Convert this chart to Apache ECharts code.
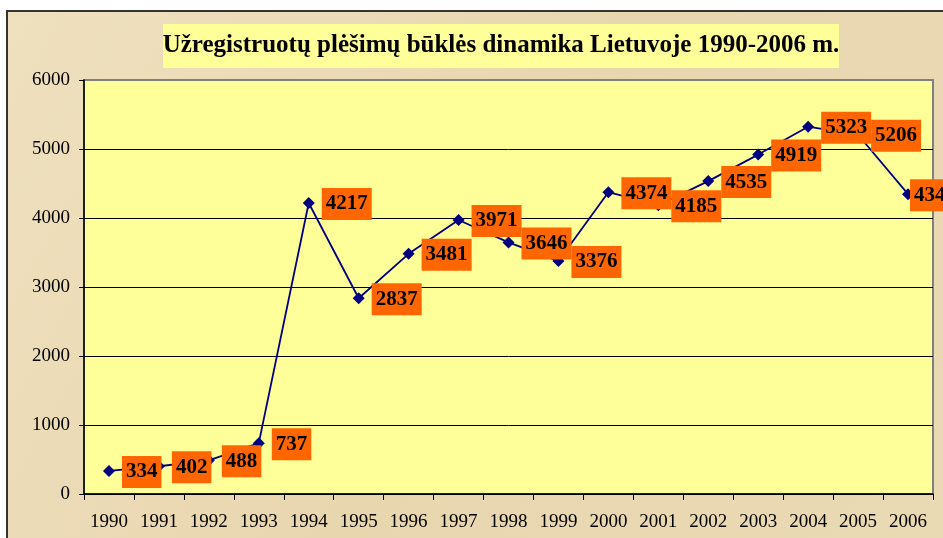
<!DOCTYPE html>
<html>
<head>
<meta charset="utf-8">
<script src="https://cdn.jsdelivr.net/npm/echarts@6/dist/echarts.min.js"></script>
<style>
    html, body { margin: 0; padding: 0; background: #ffffff; }
    #chart { width: 943px; height: 538px; }
</style>
</head>
<body>
<div id="chart"></div>
<script>
// metai ir užregistruoti plėšimai
var years = ['1990', '1991', '1992', '1993', '1994', '1995', '1996', '1997', '1998',
    '1999', '2000', '2001', '2002', '2003', '2004', '2005', '2006'];
var robberies = [334, 402, 488, 737, 4217, 2837, 3481, 3971, 3646,
    3376, 4374, 4185, 4535, 4919, 5323, 5206, 4345];
var yTicks = [0, 1000, 2000, 3000, 4000, 5000, 6000];

var titleText = 'Užregistruotų plėšimų būklės dinamika Lietuvoje 1990-2006 m.';
var serif = '"Liberation Serif", "Times New Roman", serif';

// paskutinė etiketė prispausta prie taško (kaip Excel'yje)
var seriesData = robberies.map(function (v, i) {
    if (i === robberies.length - 1) {
        return { value: v, label: { distance: -4 } };
    }
    return v;
});

var chart = echarts.init(document.getElementById('chart'));

var option = {
    backgroundColor: '#ffffff',
    animation: false,
    graphic: [
        {
            type: 'rect', z: -10, silent: true,
            shape: { x: 7, y: 11, width: 945, height: 540 },
            style: {
                fill: {
                    type: 'linear', x: 0, y: 0, x2: 1, y2: 1,
                    colorStops: [
                        { offset: 0, color: '#EFE0BE' },
                        { offset: 0.5, color: '#E8D6AF' },
                        { offset: 1, color: '#EADAB4' }
                    ]
                },
                stroke: '#333333', lineWidth: 2
            }
        },
        {
            type: 'rect', silent: true,
            shape: { x: 163, y: 24, width: 676, height: 44 },
            style: { fill: '#FFFF99' }
        },
        {
            type: 'text', silent: true,
            x: 501, y: 46,
            style: {
                text: titleText,
                fill: '#000000',
                font: 'bold 25px ' + serif,
                align: 'center',
                verticalAlign: 'middle'
            }
        }
    ],
    grid: {
        left: 84,
        right: 10,
        top: 80,
        bottom: 44,
        show: true,
        backgroundColor: '#FFFF99',
        borderColor: '#808080',
        borderWidth: 2
    },
    xAxis: {
        type: 'category',
        data: years,
        boundaryGap: true,
        axisLine: { lineStyle: { color: '#000000', width: 1.5 } },
        axisTick: { show: true, interval: 0, length: 6, lineStyle: { color: '#000000' } },
        axisLabel: {
            interval: 0,
            margin: 19,
            color: '#000000',
            fontFamily: serif,
            fontSize: 19
        },
        splitLine: { show: false }
    },
    yAxis: {
        type: 'value',
        min: yTicks[0],
        max: yTicks[yTicks.length - 1],
        interval: 1000,
        axisLine: { show: true, lineStyle: { color: '#000000', width: 1.5 } },
        axisTick: { show: true, length: 5, lineStyle: { color: '#000000' } },
        axisLabel: {
            margin: 14,
            color: '#000000',
            fontFamily: serif,
            fontSize: 19,
            formatter: function (v) { return String(v); }
        },
        splitLine: {
            show: true,
            lineStyle: {
                color: ['#000000', '#000000', '#000000', '#000000', '#000000', '#000000', '#808080'],
                width: 1
            }
        }
    },
    series: [
        {
            name: 'Plėšimai',
            type: 'line',
            data: seriesData,
            symbol: 'diamond',
            symbolSize: 12,
            itemStyle: { color: '#000080' },
            lineStyle: { color: '#000080', width: 1.8 },
            clip: false,
            label: {
                show: true,
                position: 'right',
                distance: 7,
                offset: [0, 1],
                color: '#000000',
                fontFamily: serif,
                fontWeight: 'bold',
                fontSize: 21,
                backgroundColor: '#FF6600',
                padding: [6, 4, 5, 4]
            }
        }
    ]
};

chart.setOption(option);
</script>
</body>
</html>
